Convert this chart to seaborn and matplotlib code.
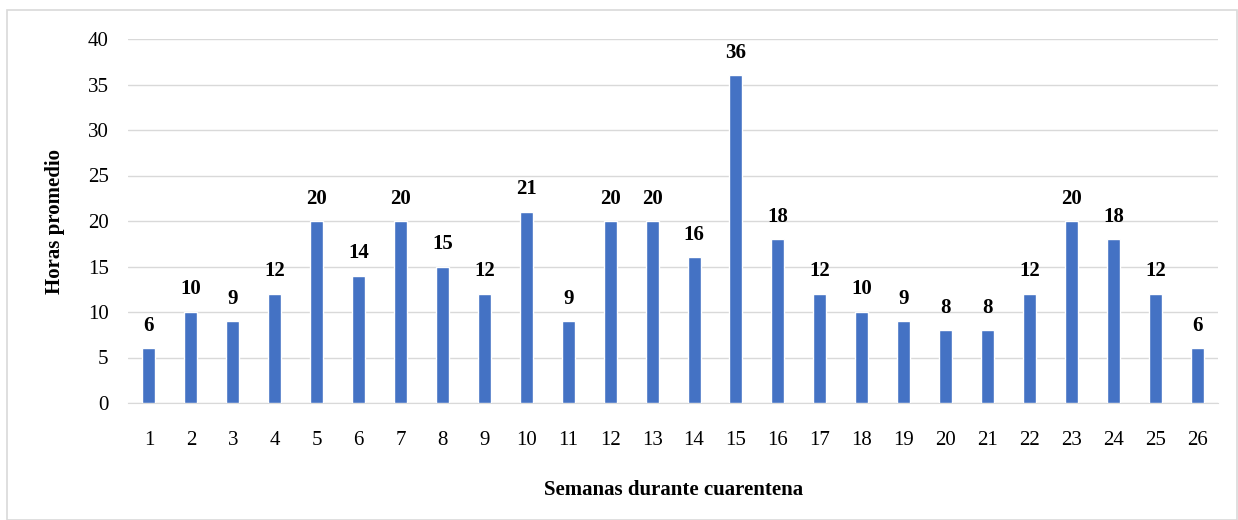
import pandas as pd
import seaborn as sns
import matplotlib.pyplot as plt
from matplotlib.patches import Rectangle

# Weekly average hours during quarantine
semanas = list(range(1, 27))
horas = [6, 10, 9, 12, 20, 14, 20, 15, 12, 21, 9, 20, 20, 16, 36, 18,
         12, 10, 9, 8, 8, 12, 20, 18, 12, 6]

df = pd.DataFrame({'Semana': semanas, 'Horas': horas})

sns.set_style('white')
plt.rcParams['font.family'] = ['Liberation Serif', 'DejaVu Serif']
plt.rcParams['text.color'] = 'black'
plt.rcParams['axes.labelcolor'] = 'black'

fig = plt.figure(figsize=(12.38, 5.2), dpi=100)
ax = fig.add_axes([0.1034, 0.225, 0.8806, 0.700])

sns.barplot(data=df, x='Semana', y='Horas', color='#4472C4', width=0.31,
            saturation=1, ax=ax, zorder=3)

ax.bar_label(ax.containers[0], fontsize=15, fontweight='bold', padding=9,
             color='black')

ax.set_ylim(0, 40)
ax.set_xlim(-0.5, 25.5)
ax.set_yticks(range(0, 41, 5))
ax.yaxis.grid(True, color='#d9d9d9', linewidth=1, zorder=0)
for side in ['top', 'right', 'left']:
    ax.spines[side].set_visible(False)
ax.spines['bottom'].set_color('#d9d9d9')
ax.tick_params(axis='both', length=0, labelsize=15, colors='black')
ax.tick_params(axis='y', pad=14)
ax.tick_params(axis='x', pad=20)

ax.set_xlabel('Semanas durante cuarentena', fontsize=15, fontweight='bold', labelpad=22)
ax.set_ylabel('Horas promedio', fontsize=15, fontweight='bold', labelpad=16)

# chart border
fig.patches.append(Rectangle((7 / 1238, 0.0), 1 - 7 / 1238 - 0.001, 1 - 10 / 520,
                             transform=fig.transFigure, fill=False,
                             edgecolor='#d9d9d9', linewidth=1.2))

fig.savefig('out.png', dpi=100)
